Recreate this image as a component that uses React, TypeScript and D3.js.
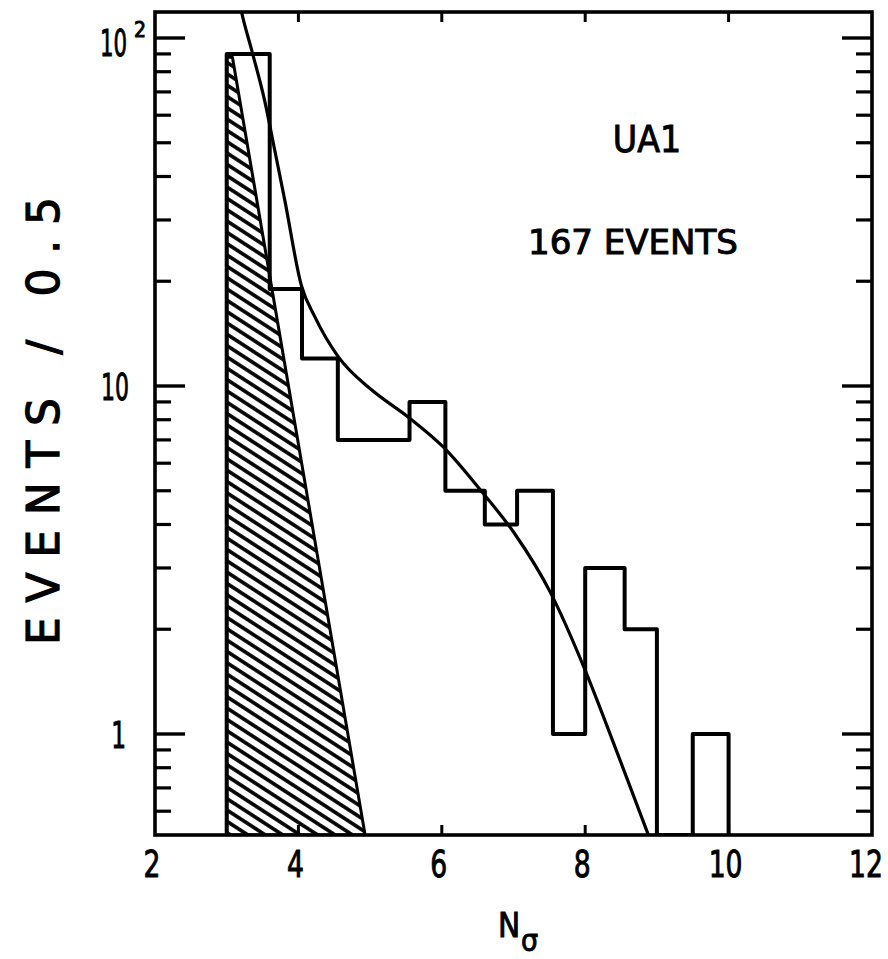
import React from "react";
import * as d3 from "d3";

// ---- data ----
const binEdges = [3.0, 3.6, 4.05, 4.55, 5.05, 5.55, 6.05, 6.6, 7.05, 7.55, 8.0, 8.55, 9.0, 9.5, 10.0];
const binCounts = [90, 19, 12, 7, 7, 9, 5, 4, 5, 1, 3, 2, 0, 1];

const fitX = [3.15, 3.21, 3.35, 3.53, 3.67, 3.81, 4.04, 4.23, 4.56, 5.02, 5.53, 6.02, 6.55, 7.01, 7.52, 7.98, 8.45, 8.87, 8.95];
const fitY = [135, 118, 92, 66, 47.6, 34.2, 19.5, 15.8, 12.1, 9.75, 8.15, 6.68, 4.99, 3.78, 2.54, 1.56, 0.88, 0.52, 0.47];

const bgX = [3.0, 3.0, 3.08, 4.93];
const bgY = [0.51, 88, 88, 0.51];

const xTickVals = [2, 4, 6, 8, 10, 12];
const yMajor = [1, 10, 100];
const yMinor = [0.6, 0.7, 0.8, 0.9, 2, 3, 4, 5, 6, 7, 8, 9, 20, 30, 40, 50, 60, 70, 80, 90];

const W = 888, H = 959;
const L = 155, R = 872, T = 12, B = 835;
const FONT = "'DejaVu Sans Condensed', 'DejaVu Sans', sans-serif";
const FONT_WIDE = "'DejaVu Sans', sans-serif";

export default function App() {
  const x = d3.scaleLinear().domain([2, 12]).range([L, R]);
  const yMin = Math.pow(10, -101 / 348);
  const yMax = Math.pow(10, 2 + 26 / 348);
  const y = d3.scaleLog().domain([yMin, yMax]).range([B, T]);
  const yc = (v: number) => y(Math.max(v, yMin));

  // histogram outline
  const pts: [number, number][] = [[x(binEdges[0]), B]];
  binCounts.forEach((c, i) => {
    pts.push([x(binEdges[i]), yc(c)]);
    pts.push([x(binEdges[i + 1]), yc(c)]);
  });
  pts.push([x(binEdges[binEdges.length - 1]), B]);
  const histPath = d3.line()(pts) as string;

  const fitPath = d3
    .line<number>()
    .x((_, i) => x(fitX[i]))
    .y((_, i) => y(fitY[i]))
    .curve(d3.curveMonotoneX)(fitX) as string;

  const bgPath = (d3
    .line<number>()
    .x((_, i) => x(bgX[i]))
    .y((_, i) => yc(bgY[i]))(bgX) as string) + "Z";

  const textStyle = { fontFamily: FONT, fill: "#000", stroke: "#000", strokeWidth: 0.9 } as any;

  return (
    <svg width={W} height={H} style={{ position: "absolute", left: 0, top: 0, background: "#fff" }}>
      <defs>
        <clipPath id="plotclip">
          <rect x={L} y={T} width={R - L} height={B - T} />
        </clipPath>
        <pattern id="hatch" patternUnits="userSpaceOnUse" width={9.5} height={9.5} patternTransform="rotate(33)">
          <line x1={0} y1={4.75} x2={9.5} y2={4.75} stroke="#000" strokeWidth={3.6} />
        </pattern>
      </defs>
      <rect x={0} y={0} width={W} height={H} fill="#fff" />

      <g clipPath="url(#plotclip)">
        <path d={bgPath} fill="url(#hatch)" stroke="#000" strokeWidth={3} strokeLinejoin="round" />
        <path d={histPath} fill="none" stroke="#000" strokeWidth={4} strokeLinejoin="round" />
        <path d={fitPath} fill="none" stroke="#000" strokeWidth={3.2} />
      </g>

      {/* frame */}
      <rect x={L} y={T} width={R - L} height={B - T} fill="none" stroke="#000" strokeWidth={3.6} />

      {/* y ticks */}
      {yMajor.map((v) => (
        <g key={"ym" + v}>
          <line x1={L} x2={L + 30} y1={y(v)} y2={y(v)} stroke="#000" strokeWidth={3.4} />
          <line x1={R} x2={R - 30} y1={y(v)} y2={y(v)} stroke="#000" strokeWidth={3.4} />
        </g>
      ))}
      {yMinor.map((v) => (
        <g key={"yn" + v}>
          <line x1={L} x2={L + 16} y1={y(v)} y2={y(v)} stroke="#000" strokeWidth={3.2} />
          <line x1={R} x2={R - 16} y1={y(v)} y2={y(v)} stroke="#000" strokeWidth={3.2} />
        </g>
      ))}
      {/* x ticks */}
      {xTickVals.slice(1, -1).map((v) => (
        <g key={"xt" + v}>
          <line x1={x(v)} x2={x(v)} y1={T} y2={T + 10} stroke="#000" strokeWidth={3} />
          <line x1={x(v)} x2={x(v)} y1={B} y2={B - 10} stroke="#000" strokeWidth={3} />
        </g>
      ))}

      {/* x tick labels */}
      {xTickVals.map((v) => {
        const cx = Math.min(x(v) - 3, 866);
        return (
          <text
            key={"xl" + v}
            transform={`translate(${cx},877) scale(0.8,1)`}
            fontSize={37}
            textAnchor="middle"
            style={textStyle}
          >
            {v}
          </text>
        );
      })}

      {/* y tick labels */}
      <text transform="translate(127,56) scale(0.64,1)" fontSize={37} textAnchor="end" style={textStyle}>10</text>
      <text x={134} y={37} fontSize={21} textAnchor="start" style={textStyle}>2</text>
      <text transform={`translate(129,${y(10) + 14}) scale(0.66,1)`} fontSize={37} textAnchor="end" style={textStyle}>10</text>
      <text transform={`translate(126,${y(1) + 14}) scale(0.7,1)`} fontSize={37} textAnchor="end" style={textStyle}>1</text>

      {/* axis titles */}
      <text x={498} y={937} fontSize={33} style={textStyle}>N</text>
      <text x={521} y={951} fontSize={30} style={textStyle}>σ</text>
      <text
        transform={`translate(59,421) rotate(-90)`}
        x={0}
        y={0}
        fontSize={44}
        textAnchor="middle"
        textLength={448}
        lengthAdjust="spacing"
        style={{ ...textStyle, fontFamily: FONT_WIDE, strokeWidth: 1.2 }}
      >
        EVENTS / 0.5
      </text>

      {/* annotations */}
      <text x={647} y={152} fontSize={37} textAnchor="middle" style={textStyle}>UA1</text>
      <text x={528} y={254} fontSize={33} textLength={210} lengthAdjust="spacingAndGlyphs" style={textStyle}>
        167 EVENTS
      </text>
    </svg>
  );
}
